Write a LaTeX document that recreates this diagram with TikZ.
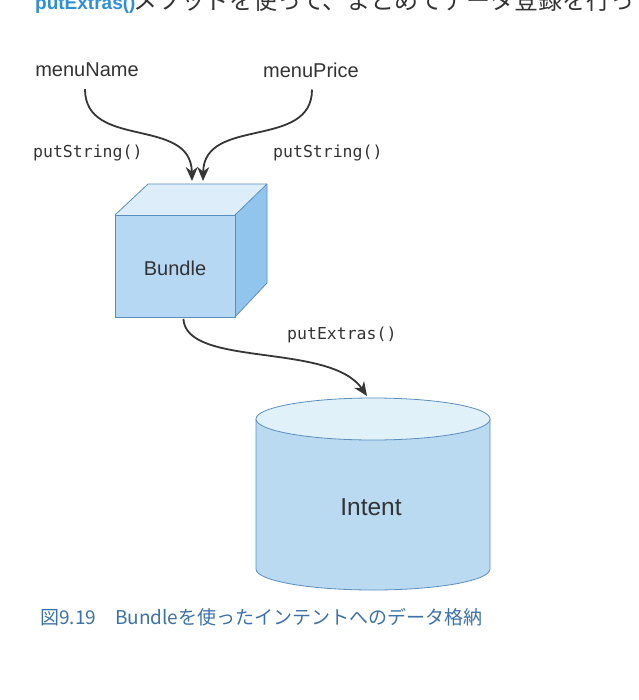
\documentclass[tikz,border=0pt]{standalone}
\usepackage{fontspec}
\setmainfont{Liberation Sans}
\newfontfamily\jpfont{Noto Sans CJK JP}
\newfontfamily\codefont{DejaVu Sans Mono}
\usetikzlibrary{arrows.meta}
\definecolor{linecol}{HTML}{363636}
\definecolor{edgecol}{HTML}{5A8EBF}
\definecolor{frontcol}{HTML}{B6D8F2}
\definecolor{topcol}{HTML}{DDEEFA}
\definecolor{sidecol}{HTML}{92C5EE}
\definecolor{cylbody}{HTML}{B9DAF1}
\definecolor{cyltop}{HTML}{E0F1FA}
\definecolor{capcol}{HTML}{3D72A9}
\definecolor{headcol}{HTML}{2F8FD8}
\definecolor{textcol}{HTML}{333333}
\tikzset{
  flow/.style={draw=linecol, line width=1.8pt, -{Stealth[length=14pt,width=12pt]}},
  lbl/.style={text=textcol, inner sep=0pt, font=\fontsize{20}{24}\selectfont},
  codelbl/.style={text=textcol, inner sep=0pt, anchor=west, font=\codefont\fontsize{16.5}{20}\selectfont},
  face/.style={draw=edgecol, line width=0.8pt, line join=round},
}
\begin{document}
\begin{tikzpicture}[x=1pt,y=-1pt]
\useasboundingbox (0,0) rectangle (638,700);
\clip (0,0) rectangle (638,700);
\fill[white] (0,0) rectangle (638,700);
% cut-off heading line
\node[anchor=base west, inner sep=0pt, text=headcol, font=\bfseries\fontsize{19}{24}\selectfont] (headA) at (35,10) {putExtras()};
\node[anchor=base west, inner sep=0pt, text=textcol, font=\jpfont\fontsize{24}{28}\selectfont] (headB) at (133,10)
  {メソッドを使って、まとめてデータ登録を行っています。};
% source labels
\node[lbl] (mname) at (87,70) {menuName};
\node[lbl] (mprice) at (311,70) {menuPrice};
% cube
\fill[topcol] (115,215) -- (148,184) -- (267,184) -- (235,215) -- cycle;
\fill[sidecol] (235,215) -- (267,184) -- (267,283) -- (235,317) -- cycle;
\node[face, fill=frontcol, minimum width=120pt, minimum height=102pt, inner sep=0pt, anchor=north west] (bundle) at (115,215) {};
\node[lbl] (bundletxt) at (175,268) {Bundle};
\draw[face] (115,215) -- (148,184) -- (267,184) -- (267,283) -- (235,317);
\draw[face] (267,184) -- (235,215);
\coordinate (tinL) at (192,181);
\coordinate (tinR) at (203,181);
% cylinder
\fill[cylbody] (256,419) -- (256,569) arc[start angle=180, end angle=0, x radius=117, y radius=21] -- (490,419) -- cycle;
\draw[face] (256,419) -- (256,569) arc[start angle=180, end angle=0, x radius=117, y radius=21] -- (490,419);
\draw[face, fill=cyltop] (373,419) ellipse[x radius=117, y radius=21];
\node[lbl, font=\fontsize{24.5}{28}\selectfont] (intent) at (371,507) {Intent};
\coordinate (cyltopin) at (367,396);
% connectors
\draw[flow] (mname.south) ++(-2,12) coordinate (sL) .. controls (85,150) and (191,116) .. (tinL);
\draw[flow] (mprice.south) ++(1,12) coordinate (sR) .. controls (312,150) and (204,116) .. (tinR);
\draw[flow] (bundle.south) ++(8,1) coordinate (sB) .. controls (186,368) and (330,342) .. (cyltopin);
% connector labels
\node[codelbl] (ps1) at (33,153) {putString()};
\node[codelbl] (ps2) at (273,153) {putString()};
\node[codelbl] (pe) at (287,335) {putExtras()};
% caption
\node[anchor=west, inner sep=0pt, text=capcol, font=\jpfont\fontsize{19}{23}\selectfont] (cap) at (40,617)
  {図9.19\hspace{1em}Bundleを使ったインテントへのデータ格納};
\end{tikzpicture}
\end{document}
